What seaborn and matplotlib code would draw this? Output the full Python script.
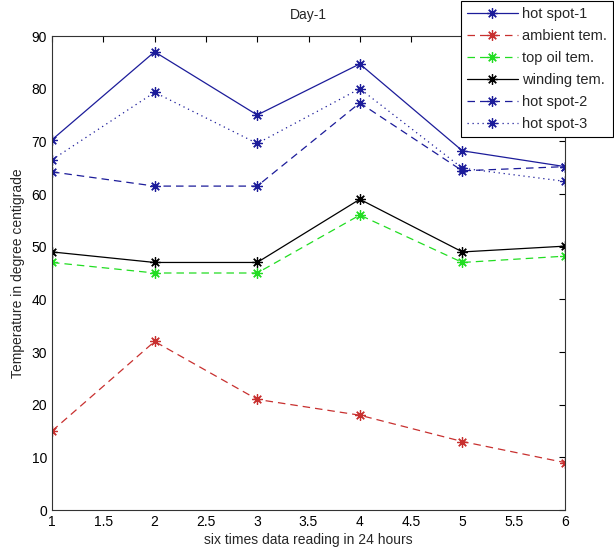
import matplotlib
matplotlib.use("Agg")
import matplotlib.pyplot as plt
import seaborn as sns
import pandas as pd

# readings (six per day) and temperatures
readings = [1, 2, 3, 4, 5, 6]
hot_spot_1 = [70.3, 87, 75, 84.7, 68.2, 65.2]
ambient = [15, 32, 21, 18, 13, 9]
top_oil = [47, 45, 45, 56, 47, 48.2]
winding = [49, 47, 47, 59, 49, 50.1]
hot_spot_2 = [64.2, 61.5, 61.5, 77.3, 64.4, 65.2]
hot_spot_3 = [66.5, 79.3, 69.6, 80, 64.9, 62.4]

series = {
    "hot spot-1": hot_spot_1,
    "ambient tem.": ambient,
    "top oil tem.": top_oil,
    "winding tem.": winding,
    "hot spot-2": hot_spot_2,
    "hot spot-3": hot_spot_3,
}
styles = {
    "hot spot-1": ("#1c1c9a", "-"),
    "ambient tem.": ("#c8302f", (0, (6, 4))),
    "top oil tem.": ("#22dd22", (0, (6, 4))),
    "winding tem.": ("black", "-"),
    "hot spot-2": ("#1c1c9a", (0, (6, 4))),
    "hot spot-3": ("#1c1c9a", (0, (1, 3))),
}

df = pd.DataFrame([(k, x, y) for k, v in series.items() for x, y in zip(readings, v)],
                  columns=["series", "reading", "temp"])

sns.set_style("white")
plt.rcParams["font.family"] = ["Liberation Sans", "DejaVu Sans"]

fig = plt.figure(figsize=(6.14, 5.52), dpi=100)
ax = fig.add_axes([52 / 614, 1 - 510 / 552, (565 - 52) / 614, (510 - 36) / 552])

# matlab style '*' marker: eight spokes
star = (8, 2, 0)
for name in series:
    color, ls = styles[name]
    sns.lineplot(data=df[df.series == name], x="reading", y="temp", ax=ax,
                 color=color, linestyle=ls, linewidth=0.9, marker=star,
                 markersize=7.5, markeredgewidth=0.9, markeredgecolor=color,
                 label=name)

ax.set_xlim(1, 6)
ax.set_ylim(0, 90)
ax.set_xticks([1, 1.5, 2, 2.5, 3, 3.5, 4, 4.5, 5, 5.5, 6])
ax.set_xticklabels(["1", "1.5", "2", "2.5", "3", "3.5", "4", "4.5", "5", "5.5", "6"])
ax.set_yticks(range(0, 91, 10))
ax.tick_params(direction="in", top=True, right=True, length=4, labelsize=10, colors="black")
for s in ax.spines.values():
    s.set_color("#333333")
    s.set_linewidth(0.8)

ax.set_title("Day-1", fontsize=10, pad=12)
ax.set_xlabel("six times data reading in 24 hours", fontsize=10, labelpad=3)
ax.set_ylabel("Temperature in degree centigrade", fontsize=10, labelpad=5)

handles, labels = ax.get_legend_handles_labels()
ax.get_legend().remove()
leg = fig.legend(handles, labels, loc="upper right", bbox_to_anchor=(613 / 614, 1 - 1 / 552),
                 borderaxespad=0, fancybox=False, edgecolor="black", framealpha=1,
                 fontsize=10.5, handlelength=3.5, borderpad=0.4, labelspacing=0.55,
                 handletextpad=0.3)
leg.get_frame().set_linewidth(0.8)

fig.savefig("out.png", dpi=100)
